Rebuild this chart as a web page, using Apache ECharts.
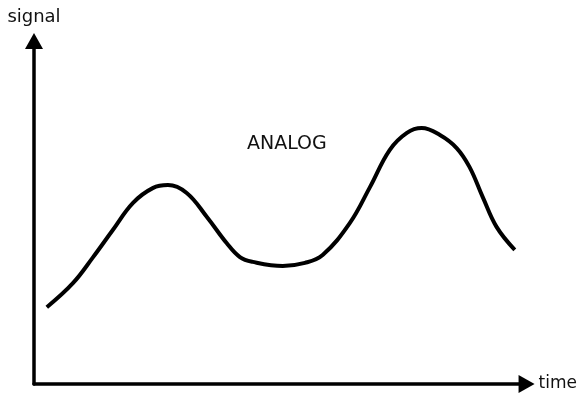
<!DOCTYPE html>
<html>
<head>
    <meta charset="utf-8" />
    <script src="https://cdn.jsdelivr.net/npm/echarts@6/dist/echarts.min.js"></script>
    <title></title>
</head>
<body style="margin:0;background:#fff">
    <div id="main" style="width:580px;height:399px;"></div>

    <script type="text/javascript">
        // points (x: time, y: signal, 0..100)
        var timeValues = [2.6, 7.9, 12.0, 16.0, 20.1, 24.1, 27.2, 31.0, 35.1, 39.1, 41.8, 44.4, 50.5, 55.0, 58.6, 64.1, 68.2, 72.2, 75.7, 78.7, 82.4, 85.8, 88.4, 91.1, 93.9, 97.6];
        var signalValues = [22.4, 29.4, 37.0, 44.9, 52.8, 57.1, 58.0, 55.7, 48.7, 41.1, 37.0, 35.6, 34.4, 35.3, 37.6, 46.9, 57.4, 68.2, 73.2, 74.6, 72.6, 68.8, 63.3, 54.5, 45.8, 39.1];

        var xName = 'time';
        var yName = 'signal';
        var caption = 'ANALOG';

        var points = [];
        for (var i = 0; i < timeValues.length; i++) {
            points.push([timeValues[i], signalValues[i]]);
        }

        var myChart = echarts.init(document.getElementById('main'));

        var axisStyle = {
            lineStyle: { color: '#000', width: 3.5 },
            symbol: ['none', 'triangle'],
            symbolSize: [18, 16],
            symbolOffset: [0, 0]
        };

        myChart.setOption({
            animation: false,
            title: {
                text: caption,
                left: 242,
                top: 130,
                textStyle: { fontFamily: 'DejaVu Sans', fontWeight: 'normal', fontSize: 19, color: '#111' }
            },
            grid: { left: 34, right: 52, top: 41, bottom: 15 },
            xAxis: {
                type: 'value',
                min: 0,
                max: 100,
                name: xName,
                nameLocation: 'end',
                nameGap: 12,
                nameTextStyle: { fontFamily: 'DejaVu Sans', fontSize: 17, color: '#111', verticalAlign: 'middle', padding: [0, 0, 6, 0] },
                axisLine: axisStyle,
                axisTick: { show: false },
                axisLabel: { show: false },
                splitLine: { show: false }
            },
            yAxis: {
                type: 'value',
                min: 0,
                max: 100,
                name: yName,
                nameLocation: 'end',
                nameGap: 15,
                nameTextStyle: { fontFamily: 'DejaVu Sans', fontSize: 18, color: '#111', align: 'center' },
                axisLine: axisStyle,
                axisTick: { show: false },
                axisLabel: { show: false },
                splitLine: { show: false }
            },
            series: [{
                type: 'line',
                data: points,
                smooth: 0.4,
                showSymbol: false,
                lineStyle: { color: '#000', width: 4 }
            }]
        });
    </script>
</body>
</html>
